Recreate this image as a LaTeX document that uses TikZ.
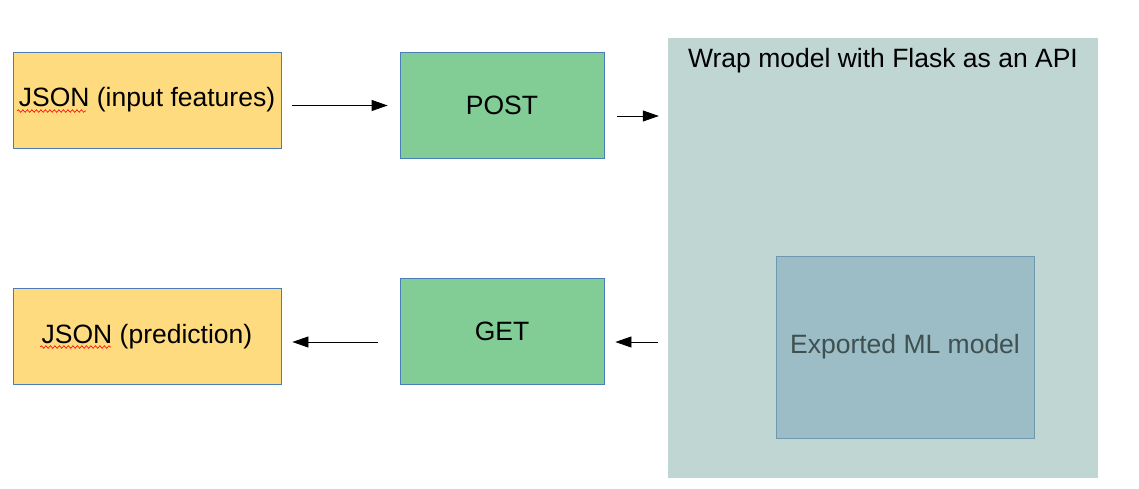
\documentclass[tikz,border=0pt]{standalone}
\usepackage{fontspec}
\setmainfont{Liberation Sans}
\usetikzlibrary{arrows.meta,decorations.pathmorphing}
\definecolor{jsonfill}{HTML}{FFDB80}
\definecolor{httpfill}{HTML}{81CD95}
\definecolor{apifill}{HTML}{C0D6D3}
\definecolor{mlfill}{HTML}{9CBCC6}
\definecolor{mlline}{HTML}{6E98B0}
\definecolor{mltext}{HTML}{3E5050}
\definecolor{boxline}{HTML}{4A7EBB}
\begin{document}
\begin{tikzpicture}[x=1pt,y=-1pt,>={Triangle[length=16pt,width=11pt]},
	box/.style={draw=boxline,line width=0.8pt,inner sep=0pt,font=\fontsize{26.5}{30}\selectfont},
	jsonbox/.style={box,fill=jsonfill,minimum width=268pt,minimum height=96pt},
	httpbox/.style={box,fill=httpfill,minimum width=204pt,minimum height=106pt},
	spell/.style={red,line width=0.6pt,decorate,decoration={snake,amplitude=1.3pt,segment length=4.5pt}}]
				\useasboundingbox (0,0) rectangle (1139,489);
				\node[jsonbox] (in) at (147,100) {JSON (input features)};
				\node[httpbox] (post) at (502,105.5) {POST};
				\node[fill=apifill,minimum width=430pt,minimum height=440pt,inner sep=0pt] (api) at (883,258) {};
				\node[font=\fontsize{26.5}{30}\selectfont,anchor=north] (title) at ([yshift=-7]api.north) {Wrap model with Flask as an API};
				\node[box,draw=mlline,fill=mlfill,text=mltext,minimum width=258pt,minimum height=182pt] (ml) at (905,347) {Exported ML model};
				\node[jsonbox] (pred) at (147,336.5) {JSON (prediction)};
				\node[httpbox] (get) at (502,331) {GET};
				\draw[->,line width=0.8pt,shorten <=11pt,shorten >=12pt] (post.west -| in.east)--(post.west);
				\draw[->,line width=0.8pt,shorten <=13pt,shorten >=9pt] ([yshift=-10.5]post.east)--([yshift=-10.5]post.east -| api.west);
				\draw[->,line width=0.8pt,shorten <=10pt,shorten >=11pt] ([yshift=-11]get.east -| api.west)--([yshift=-11]get.east);
				\draw[->,line width=0.8pt,shorten <=22pt,shorten >=11pt] ([yshift=-11]get.west)--([yshift=-11]get.west -| pred.east);
				\draw[spell] (17,111)--(86,111);
				\draw[spell] (40,347)--(111,347);
			\end{tikzpicture}
\end{document}
